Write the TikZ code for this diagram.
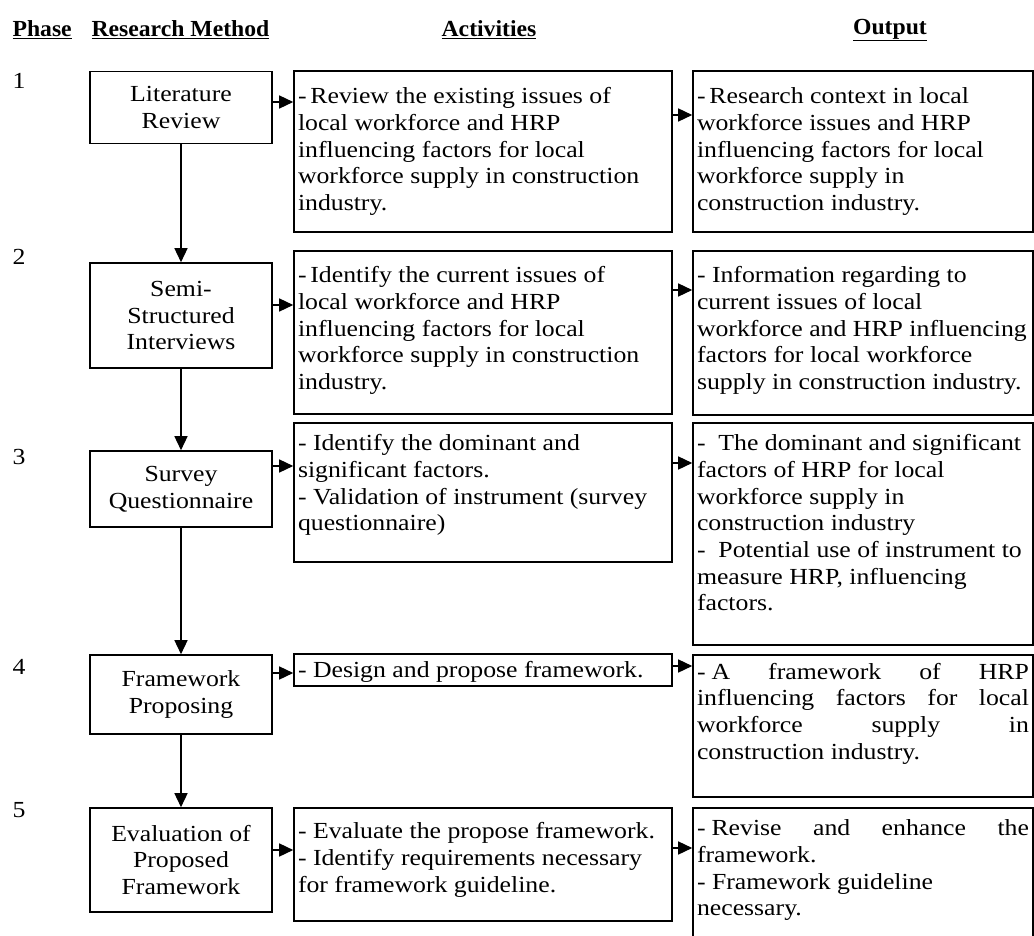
\documentclass[tikz,border=0pt]{standalone}
\usepackage{fontspec}
\setmainfont[FakeStretch=1.12,BoldFeatures={FakeStretch=1.03}]{Liberation Serif}
\usetikzlibrary{arrows.meta}
\newcommand\cell[4]{\parbox[c][#1][t]{#2}{\vspace*{#3}\raggedright\strut #4}}
\begin{document}
\begin{tikzpicture}[x=1pt,y=-1pt,
  every node/.style={font=\fontsize{23}{26.7}\selectfont},
  mbox/.style={draw,line width=1.6pt,minimum width=182pt,align=center,inner sep=0pt},
  tbox/.style={draw,line width=1.6pt,inner xsep=4pt,inner ysep=0pt},
  hdr/.style={font=\fontsize{23}{26.7}\selectfont\bfseries},
  arr/.style={line width=1.5pt,-{Triangle[length=14pt,width=13pt]}}]
\useasboundingbox (0,0) rectangle (1034,936);
\clip (0,0) rectangle (1034,936);
\fill[white] (0,0) rectangle (1034,936);
% headers
\node[hdr,anchor=west] (hP) at (9,30) {\underline{Phase}};
\node[hdr,anchor=west] (hR) at (88,30) {\underline{Research Method}};
\node[hdr] (hA) at (489,30) {\underline{Activities}};
\node[hdr] (hO) at (890,30) {\underline{Output}};
% phase numbers
\node[anchor=west] (p1) at (9,81) {1};
\node[anchor=west] (p2) at (9,257) {2};
\node[anchor=west] (p3) at (9,457) {3};
\node[anchor=west] (p4) at (9,667) {4};
\node[anchor=west] (p5) at (9,810) {5};
% method boxes
\node[mbox,minimum height=72pt] (M1) at (181,107.5) {Literature\\Review};
\node[mbox,minimum height=105pt] (M2) at (181,315.5) {Semi-\\Structured\\Interviews};
\node[mbox,minimum height=76pt] (M3) at (181,489) {Survey\\Questionnaire};
\node[mbox,minimum height=79pt] (M4) at (181,694.5) {Framework\\Proposing};
\node[mbox,minimum height=104pt] (M5) at (181,860) {Evaluation of\\Proposed\\Framework};
% activity boxes
\node[tbox] (A1) at (483,151.5) {\cell{161pt}{370pt}{14pt}{-\,Review the existing issues of\\local workforce and HRP\\influencing factors for local\\workforce supply in construction\\industry.}};
\node[tbox] (A2) at (483,332.5) {\cell{163pt}{370pt}{13pt}{-\,Identify the current issues of\\local workforce and HRP\\influencing factors for local\\workforce supply in construction\\industry.}};
\node[tbox] (A3) at (483,492.5) {\cell{139pt}{370pt}{9pt}{- Identify the dominant and\\significant factors.\\- Validation of instrument (survey\\questionnaire)}};
\node[tbox] (A4) at (483,670) {\cell{32pt}{370pt}{4.5pt}{- Design and propose framework.}};
\node[tbox] (A5) at (483,864.5) {\cell{113pt}{370pt}{12pt}{- Evaluate the propose framework.\\- Identify requirements necessary\\ for framework guideline.}};
% output boxes
\node[tbox] (O1) at (863,151.5) {\cell{161pt}{332pt}{14pt}{-\,Research context in local\\workforce issues and HRP\\influencing factors for local\\workforce supply in\\construction industry.}};
\node[tbox] (O2) at (863,333) {\cell{164pt}{332pt}{13pt}{- Information regarding to\\current issues of local\\workforce and HRP influencing\\factors for local workforce\\supply in construction industry.}};
\node[tbox] (O3) at (863,534) {\cell{222pt}{332pt}{9pt}{-~ The dominant and significant\\factors of HRP for local\\workforce supply in\\construction industry\\-~ Potential use of instrument to\\measure HRP, influencing\\factors.}};
\node[tbox] (O4) at (863,726) {\cell{142pt}{332pt}{5.5pt}{\makebox[\linewidth][s]{-\hspace{6pt}A framework of HRP}\\\makebox[\linewidth][s]{influencing factors for local}\\\makebox[\linewidth][s]{workforce supply in}\\construction industry.}};
\node[tbox] (O5) at (863,874) {\cell{132pt}{332pt}{9pt}{\makebox[\linewidth][s]{-\hspace{6pt}Revise and enhance the}\\framework.\\- Framework guideline\\necessary.}};
% vertical arrows
\draw[arr] (M1) -- (M2);
\draw[arr] (M2) -- (M3);
\draw[arr] (M3) -- (M4);
\draw[arr] (M4) -- (M5);
% method -> activity
\draw[arr] ([yshift=5.5pt]M1.east) -- ([yshift=5.5pt]M1.east -| A1.west);
\draw[arr] ([yshift=10.5pt]M2.east) -- ([yshift=10.5pt]M2.east -| A2.west);
\draw[arr] ([yshift=23pt]M3.east) -- ([yshift=23pt]M3.east -| A3.west);
\draw[arr] ([yshift=21.5pt]M4.east) -- ([yshift=21.5pt]M4.east -| A4.west);
\draw[arr] ([yshift=10pt]M5.east) -- ([yshift=10pt]M5.east -| A5.west);
% activity -> output
\draw[arr] ([yshift=36.5pt]A1.east) -- ([yshift=36.5pt]A1.east -| O1.west);
\draw[arr] ([yshift=42.5pt]A2.east) -- ([yshift=42.5pt]A2.east -| O2.west);
\draw[arr] ([yshift=29.5pt]A3.east) -- ([yshift=29.5pt]A3.east -| O3.west);
\draw[arr] ([yshift=4pt]A4.east) -- ([yshift=4pt]A4.east -| O4.west);
\draw[arr] ([yshift=16.5pt]A5.east) -- ([yshift=16.5pt]A5.east -| O5.west);
\end{tikzpicture}
\end{document}
